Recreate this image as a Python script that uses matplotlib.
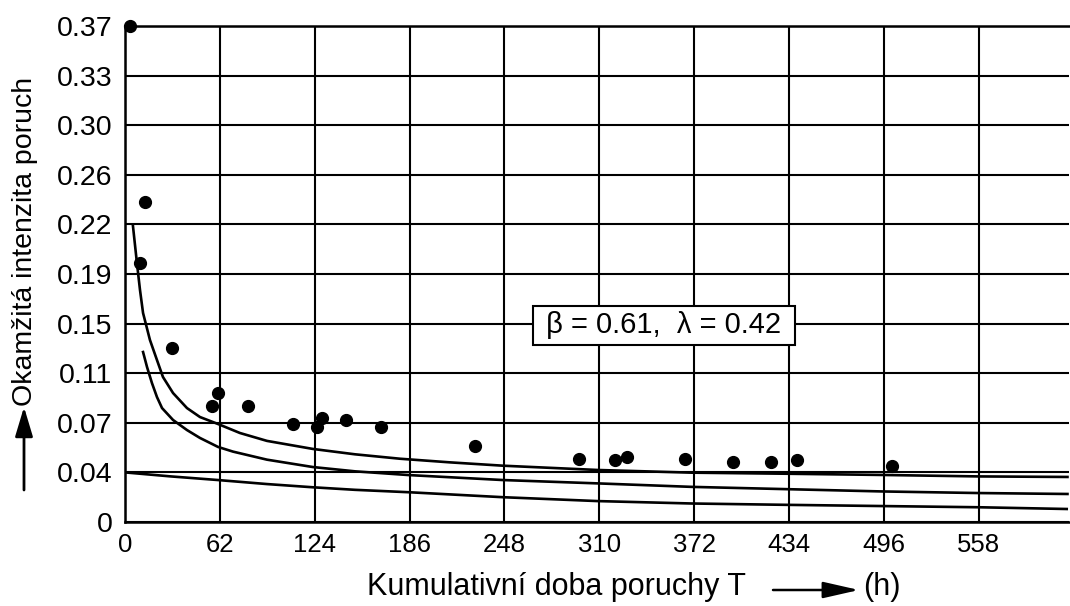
import matplotlib
matplotlib.use('Agg')
import matplotlib.pyplot as plt
import numpy as np

plt.rcParams['font.family'] = ['Liberation Sans', 'DejaVu Sans']

# measured failure intensity points
pts_t = [3, 13.1, 9.8, 30.7, 56.8, 60.8, 80.4, 109.8, 125.4, 128.7, 144.4, 167.3,
         228.7, 296.6, 320.2, 328.0, 365.9, 397.3, 422.1, 439.1, 501.1]
pts_y = [0.370, 0.2387, 0.1932, 0.1298, 0.0865, 0.0962, 0.0865, 0.0731, 0.0709, 0.0776,
         0.0761, 0.0709, 0.0567, 0.0470, 0.0463, 0.0485, 0.0470, 0.0448, 0.0448, 0.0463, 0.0418]

# three fitted curves
up_t = [5.2, 7.8, 9.8, 11.8, 16.3, 20.9, 24.8, 31.4, 40.5, 49.0, 60.8, 75.1, 92.8, 122.8,
        150.3, 179.7, 212.3, 247.0, 309.0, 370.5, 432.5, 494.6, 558.0, 616]
up_y = [0.2208, 0.1932, 0.1731, 0.1559, 0.1358, 0.1208, 0.1082, 0.0962, 0.0850, 0.0783,
        0.0731, 0.0664, 0.0605, 0.0545, 0.0505, 0.0472, 0.0445, 0.0420, 0.0388, 0.0368,
        0.0360, 0.0351, 0.0340, 0.0336]
mid_t = [11.8, 14.4, 17.6, 20.9, 24.2, 31.4, 40.5, 49.0, 60.8, 70.6, 92.8, 122.8, 150.3,
         185.6, 247.0, 309.0, 370.5, 432.5, 494.6, 558.0, 616]
mid_y = [0.1268, 0.1156, 0.1037, 0.0932, 0.0850, 0.0761, 0.0686, 0.0627, 0.0560, 0.0525,
         0.0465, 0.0410, 0.0378, 0.0350, 0.0313, 0.0288, 0.0262, 0.0245, 0.0228, 0.0216, 0.0209]
low_t = [0, 30.0, 60.8, 92.8, 122.8, 150.3, 185.6, 247.0, 309.0, 370.5, 432.5, 494.6, 558.0, 615.5]
low_y = [0.037, 0.0340, 0.0313, 0.0283, 0.0259, 0.0240, 0.0222, 0.0185, 0.0156, 0.0138,
         0.0128, 0.0119, 0.0110, 0.0097]

xticks = [0, 62, 124, 186, 248, 310, 372, 434, 496, 558]
yticks = [0, 0.037, 0.074, 0.111, 0.148, 0.185, 0.222, 0.259, 0.296, 0.333, 0.37]
ylabels = ['0', '0.04', '0.07', '0.11', '0.15', '0.19', '0.22', '0.26', '0.30', '0.33', '0.37']

fig = plt.figure(figsize=(10.7, 6.06), dpi=100)
ax = fig.add_axes([125 / 1070, 1 - 522 / 606, 944 / 1070, 496 / 606])

for t, y in [(up_t, up_y), (mid_t, mid_y), (low_t, low_y)]:
    ax.plot(t, y, color='black', lw=1.9, zorder=3, solid_joinstyle='round')
ax.plot(pts_t, pts_y, 'o', color='black', ms=8.5, zorder=4, clip_on=False)

ax.set_xlim(0, 617)
ax.set_ylim(0, 0.37)
ax.set_xticks(xticks)
ax.set_yticks(yticks)
ax.set_yticklabels(ylabels)
ax.tick_params(axis='both', length=0, colors='black')
ax.tick_params(axis='x', labelsize=18.5, pad=8)
ax.tick_params(axis='y', labelsize=20.5, pad=9)
ax.grid(True, color='black', lw=1.5)
for s in ['left', 'bottom', 'top']:
    ax.spines[s].set_linewidth(1.8)
ax.spines['right'].set_visible(False)

ax.text(352.3, 0.1466, ' β = 0.61,  λ = 0.42 ', fontsize=21, ha='center', va='center',
        zorder=5, bbox=dict(boxstyle='square,pad=0.2', fc='white', ec='black', lw=1.5))

# axis titles with arrows
fig.text(25 / 1070, 1 - 241 / 606, 'Okamžitá intenzita poruch', rotation=90,
         fontsize=20.5, ha='center', va='center')
ax.annotate('', xy=(24 / 1070, 1 - 407 / 606), xytext=(24 / 1070, 1 - 490 / 606),
            xycoords='figure fraction', textcoords='figure fraction',
            arrowprops=dict(arrowstyle='-|>,head_length=1.0,head_width=0.3',
                            mutation_scale=18, lw=2, color='black',
                            shrinkA=0, shrinkB=0))
fig.text(367 / 1070, 1 - 595 / 606, 'Kumulativní doba poruchy T', fontsize=22,
         ha='left', va='baseline')
ax.annotate('', xy=(859 / 1070, 1 - 590 / 606), xytext=(773 / 1070, 1 - 590 / 606),
            xycoords='figure fraction', textcoords='figure fraction',
            arrowprops=dict(arrowstyle='-|>,head_length=1.1,head_width=0.25',
                            mutation_scale=20, lw=1.8, color='black',
                            shrinkA=0, shrinkB=0))
fig.text(863 / 1070, 1 - 595 / 606, '(h)', fontsize=22, ha='left', va='baseline')

fig.savefig('out.png', dpi=100)
